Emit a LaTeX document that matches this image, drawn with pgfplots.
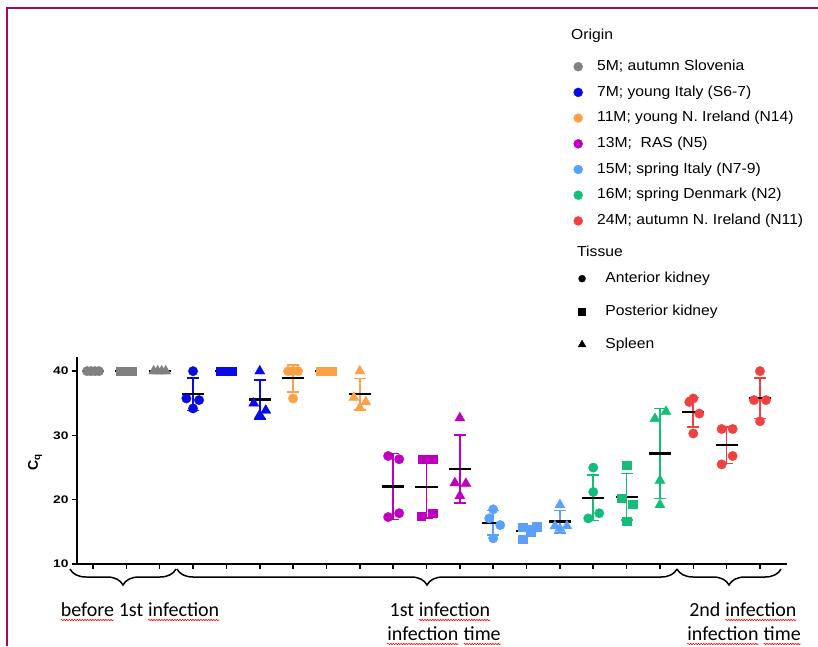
\documentclass[border=0pt]{standalone}
\usepackage{fontspec}
\setmainfont{Liberation Sans}
\newfontfamily\legfont{Liberation Sans}[FakeStretch=1.08]
\newfontfamily\tickfont{Liberation Sans}[FakeStretch=1.25]
\newfontfamily\calfont{Carlito}
\usepackage{pgfplots}
\pgfplotsset{compat=1.18}
\usetikzlibrary{decorations.pathreplacing,decorations.pathmorphing}
\definecolor{cgray}{RGB}{128,128,128}
\definecolor{cblue}{RGB}{10,10,230}
\definecolor{corange}{RGB}{255,160,70}
\definecolor{cpurple}{RGB}{190,0,190}
\definecolor{clblue}{RGB}{90,160,255}
\definecolor{cgreen}{RGB}{20,190,120}
\definecolor{cred}{RGB}{240,65,65}
\definecolor{cborder}{RGB}{160,10,100}
\newcommand\spl[1]{\tikz[baseline=(w.base)]{\node[inner sep=0pt, outer sep=0pt, anchor=base, rotate=0](w) at (0pt,0pt){#1};
  \draw[red, line width=0.6pt, decorate, decoration={snake, amplitude=0.7pt, segment length=2.6pt}] ([yshift=-3.5pt]w.base west) -- ([yshift=-3.5pt]w.base east);}}
\pgfplotsset{
  pc/.style={forget plot, only marks, mark=*, mark size=4.7pt, color=#1},
  ps/.style={forget plot, only marks, mark=square*, mark size=4.2pt, color=#1},
  pt/.style={forget plot, only marks, mark=triangle*, mark size=5.8pt, color=#1},
  meanline/.style={forget plot, only marks, mark=*, mark size=0.1pt, mark options={opacity=0},
     error bars/.cd, x dir=both, x fixed=0.33,
     error mark=none, error bar style={black, line width=2.2pt}},
  sdbar/.style={forget plot, only marks, mark=*, mark size=0.1pt, mark options={opacity=0},
     error bars/.cd, y dir=both, y explicit,
     error mark=-,
     error bar style={color=#1, line width=1.6pt},
     error mark options={rotate=90, color=#1, mark size=6pt, line width=1.6pt}},
}
\begin{document}
\begin{tikzpicture}
\useasboundingbox (0pt,0pt) rectangle (818pt,646pt);
\begin{axis}[
  at={(77pt,82pt)}, anchor=south west, scale only axis,
  width=710pt, height=207pt,
  xmin=-0.48, xmax=20.81, ymin=10, ymax=42.2,
  axis lines=left, axis line style={-, black, line width=2pt},
  xtick={0,...,20}, xticklabel=\empty,
  ytick={10,20,30,40},
  tick align=outside, major tick length=5pt,
  tick style={black, line width=1.5pt},
  clip=false,
  /pgf/number format/assume math mode=true,
  yticklabel style={font={\fontsize{11}{13}\tickfont\bfseries}},
  ylabel={\textbf{C\textsubscript{q}}},
  ylabel style={at={(axis description cs:-0.059,0.49)}, anchor=center, font=\fontsize{14}{16}\selectfont},
  legend image code/.code={\draw[#1] plot coordinates {(0pt,0pt)};},
  legend cell align=left,
  legend style={at={(axis description cs:0.6993,2.436)}, anchor=north west, draw=none, fill=none,
    inner sep=0pt, row sep=12.2pt, column sep=14.5pt,
    font=\fontsize{14.5}{16}\legfont,
    nodes={inner sep=0pt, text height=10.5pt, text depth=3pt}},
]
% gray
\addplot[pc=cgray] coordinates {(-0.18,40) (-0.06,40) (0.06,40) (0.18,40)};
\addplot[ps=cgray] coordinates {(0.82,40) (0.94,40) (1.06,40) (1.18,40)};
\addplot[pt=cgray] coordinates {(1.82,40) (1.94,40) (2.06,40) (2.18,40)};
\addplot[sdbar=cgray] coordinates {(0,40) +- (0,0) (1,40) +- (0,0) (2,40) +- (0,0)};
\addplot[meanline] coordinates {(0,40) (1,40) (2,40)};
% blue
\addplot[pc=cblue] coordinates {(3,40) (2.80,35.75) (3.18,35.5) (3,34.2)};
\addplot[ps=cblue] coordinates {(3.82,40) (3.94,40) (4.06,40) (4.18,40)};
\addplot[pt=cblue] coordinates {(5,40) (4.82,35) (5.18,33.9) (5,33.2)};
\addplot[sdbar=cblue] coordinates {(3,36.4) +- (0,2.5) (4,40) +- (0,0) (5,35.6) +- (0,3.0)};
\addplot[meanline] coordinates {(3,36.4) (4,40) (5,35.6)};
% orange
\addplot[pc=corange] coordinates {(5.85,40) (6,40) (6.15,40) (6,35.75)};
\addplot[ps=corange] coordinates {(6.82,40) (6.94,40) (7.06,40) (7.18,40)};
\addplot[pt=corange] coordinates {(8,40) (7.82,35.9) (8.18,35.2) (8,34.3)};
\addplot[sdbar=corange] coordinates {(6,38.9) +- (0,2.1) (7,40) +- (0,0) (8,36.4) +- (0,2.45)};
\addplot[meanline] coordinates {(6,38.9) (7,40) (8,36.4)};
% purple
\addplot[pc=cpurple] coordinates {(8.85,26.8) (9.18,26.3) (8.85,17.3) (9.18,17.9)};
\addplot[ps=cpurple] coordinates {(9.88,26.3) (10.18,26.3) (9.85,17.4) (10.18,17.9)};
\addplot[pt=cpurple] coordinates {(11,32.7) (10.85,22.6) (11.18,22.5) (11,20.6)};
\addplot[sdbar=cpurple] coordinates {(9,22.05) +- (0,5.15) (10,22.0) +- (0,4.8) (11,24.8) +- (0,5.3)};
\addplot[meanline] coordinates {(9,22.05) (10,22.0) (11,24.8)};
% light blue
\addplot[pc=clblue] coordinates {(12,18.5) (11.88,17.1) (12.21,16.05) (12,14.0)};
\addplot[ps=clblue] coordinates {(12.88,15.7) (13.12,15.0) (13.3,15.8) (12.88,13.9)};
\addplot[pt=clblue] coordinates {(14,19.2) (13.85,15.9) (14.21,15.9) (14,15.5)};
\addplot[sdbar=clblue] coordinates {(12,16.4) +- (0,1.9) (13,15.1) +- (0,0.85) (14,16.6) +- (0,1.75)};
\addplot[meanline] coordinates {(12,16.4) (13,15.1) (14,16.6)};
% green
\addplot[pc=cgreen] coordinates {(15,25.0) (15,21.2) (15.18,17.9) (14.85,17.1)};
\addplot[ps=cgreen] coordinates {(16,25.4) (15.85,20.2) (16.18,19.3) (16,16.7)};
\addplot[pt=cgreen] coordinates {(17.18,33.7) (16.85,32.6) (17,23.0) (17,19.2)};
\addplot[sdbar=cgreen] coordinates {(15,20.3) +- (0,3.55) (16,20.45) +- (0,3.6) (17,27.2) +- (0,7.0)};
\addplot[meanline] coordinates {(15,20.3) (16,20.45) (17,27.2)};
% red
\addplot[pc=cred] coordinates {(17.88,35.2) (18,35.75) (18.18,33.4) (18,30.3)
   (18.85,31.0) (19.18,31.0) (19.18,26.8) (18.85,25.5)
   (20,40) (19.82,35.5) (20.18,35.5) (20,32.2)};
\addplot[sdbar=cred] coordinates {(18,33.6) +- (0,2.3) (19,28.5) +- (0,2.85) (20,35.8) +- (0,3.15)};
\addplot[meanline] coordinates {(18,33.6) (19,28.5) (20,35.8)};
% legend (origin)
\addlegendimage{only marks, mark=*, mark size=4.5pt, cgray}
\addlegendentry{5M; autumn Slovenia}
\addlegendimage{only marks, mark=*, mark size=4.5pt, cblue}
\addlegendentry{7M; young Italy (S6-7)}
\addlegendimage{only marks, mark=*, mark size=4.5pt, corange}
\addlegendentry{11M; young N. Ireland (N14)}
\addlegendimage{only marks, mark=*, mark size=4.5pt, cpurple}
\addlegendentry{13M; \ RAS (N5)}
\addlegendimage{only marks, mark=*, mark size=4.5pt, clblue}
\addlegendentry{15M; spring Italy (N7-9)}
\addlegendimage{only marks, mark=*, mark size=4.5pt, cgreen}
\addlegendentry{16M; spring Denmark (N2)}
\addlegendimage{only marks, mark=*, mark size=4.5pt, cred}
\addlegendentry{24M; autumn N. Ireland (N11)}
\end{axis}
% tissue legend
\begin{axis}[
  at={(77pt,82pt)}, anchor=south west, scale only axis,
  width=710pt, height=207pt, hide axis,
  xmin=0, xmax=1, ymin=0, ymax=1,
  legend image code/.code={\draw[#1] plot coordinates {(0pt,0pt)};},
  legend cell align=left,
  legend style={at={(axis description cs:0.7056,1.412)}, anchor=north west, draw=none, fill=none,
    inner sep=0pt, row sep=19.5pt, column sep=19.5pt,
    font=\fontsize{14.5}{16}\legfont,
    nodes={inner sep=0pt, text height=10.5pt, text depth=3pt}},
]
\addplot[draw=none, forget plot] coordinates {(0.5,0.5)};
\addlegendimage{only marks, mark=*, mark size=3.5pt, black}
\addlegendentry{Anterior kidney}
\addlegendimage{only marks, mark=square*, mark size=3.5pt, black}
\addlegendentry{Posterior kidney}
\addlegendimage{only marks, mark=triangle*, mark size=4.5pt, black}
\addlegendentry{Spleen}
\end{axis}
% headers
\node[anchor=base west, inner sep=0pt, font=\fontsize{14.5}{16}\legfont] at (571pt,606pt) {Origin};
\node[anchor=base west, inner sep=0pt, font=\fontsize{14.5}{16}\legfont] at (577pt,389pt) {Tissue};
% braces
\draw[line width=1.5pt, decorate, decoration={brace, mirror, amplitude=16pt}] (70pt,77pt) -- (176pt,77pt);
\draw[line width=1.5pt, decorate, decoration={brace, mirror, amplitude=16pt}] (177pt,77pt) -- (677pt,77pt);
\draw[line width=1.5pt, decorate, decoration={brace, mirror, amplitude=16pt}] (677pt,77pt) -- (781pt,77pt);
% group labels
\node[anchor=base, inner sep=0pt, font=\calfont\fontsize{20}{24}\selectfont] at (140pt,29.5pt) {\spl{before} 1st \spl{infection}};
\node[anchor=base, inner sep=0pt, font=\calfont\fontsize{20}{24}\selectfont] at (440pt,29.5pt) {1st \spl{infection}};
\node[anchor=base, inner sep=0pt, font=\calfont\fontsize{20}{24}\selectfont] at (444pt,5.5pt) {\spl{infection} \spl{time}};
\node[anchor=base, inner sep=0pt, font=\calfont\fontsize{20}{24}\selectfont] at (743pt,29.5pt) {2nd \spl{infection}};
\node[anchor=base, inner sep=0pt, font=\calfont\fontsize{20}{24}\selectfont] at (744pt,5.5pt) {\spl{infection} \spl{time}};
% border
\draw[cborder, line width=2pt] (6.5pt,0pt) -- (6.5pt,637.7pt) -- (818pt,637.7pt);
\end{tikzpicture}
\end{document}
